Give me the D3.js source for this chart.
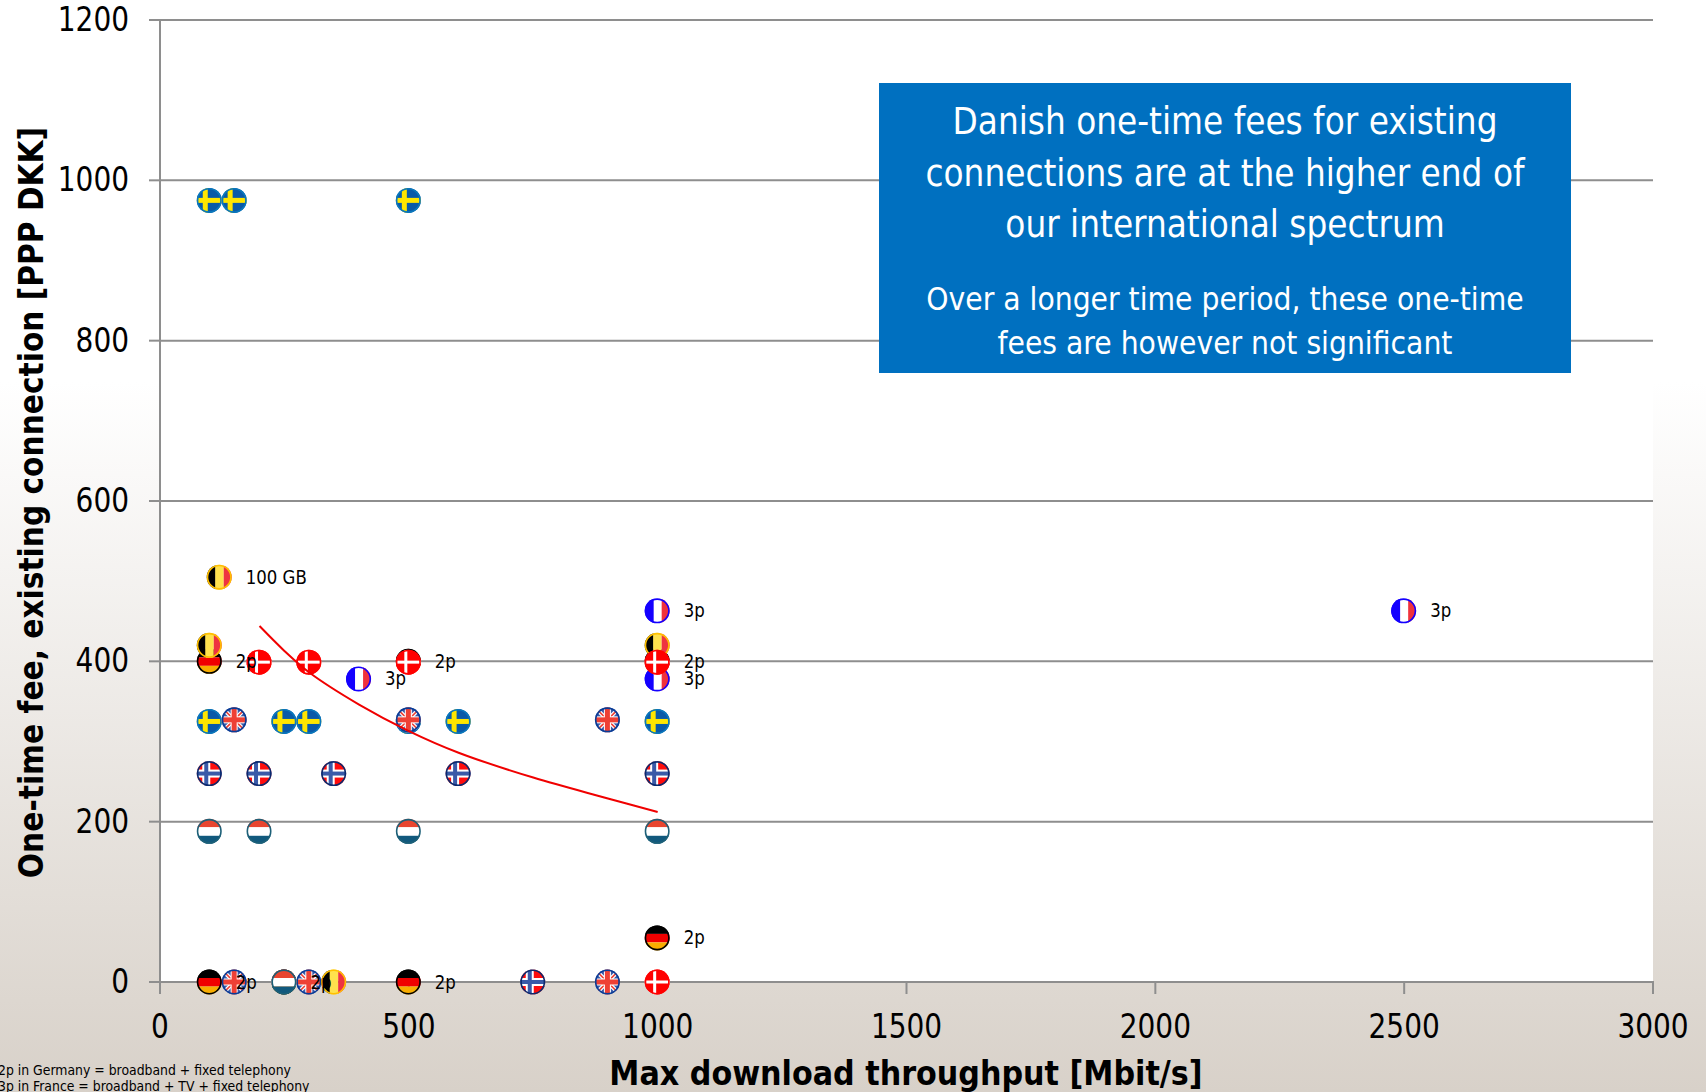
<!DOCTYPE html>
<html><head><meta charset="utf-8">
<script src="https://cdn.jsdelivr.net/npm/d3@7/dist/d3.min.js"></script>
<style>
html,body{margin:0;padding:0;width:1706px;height:1092px;overflow:hidden}
svg{display:block}
text{font-family:"DejaVu Sans Condensed","DejaVu Sans",sans-serif}
</style></head><body><div id="c"></div>
<script>
const xTicks=[0,500,1000,1500,2000,2500,3000];
const yTicks=[0,200,400,600,800,1000,1200];
// series: [throughput, fee, label]
const sweden=[[100,975],[150,975],[500,975],[100,325],[250,325],[300,325],[500,325],[600,325],[1000,325]];
const uk=[[150,327],[500,327],[900,327],[150,0],[300,0],[900,0]];
const germany=[[100,400,"2p"],[500,400,"2p"],[1000,400,"2p"],[1000,55,"2p"],[100,0,"2p"],[250,0,"2p"],[500,0,"2p"]];
const netherlands=[[100,188],[200,188],[500,188],[1000,188],[250,0]];
const france=[[1000,463,"3p"],[2500,463,"3p"],[400,378,"3p"],[1000,378,"3p"]];
const belgium=[[120,505,"100 GB"],[100,420],[1000,420],[350,0]];
const norway=[[100,260],[200,260],[350,260],[600,260],[1000,260],[750,0]];
const denmark=[[200,399],[300,399],[500,399],[1000,399],[1000,0]];
const trendX=[200,250,300,400,500,600,750,900,1000];
const trendY=[444,413,386,346,313,286,255,229,212];
const boxHead=["Danish one-time fees for existing","connections are at the higher end of","our international spectrum"];
const boxSub=["Over a longer time period, these one-time","fees are however not significant"];
const notes=["2p in Germany = broadband + fixed telephony","3p in France = broadband + TV + fixed telephony"];

const W=1706,H=1092;
const squeeze=(sel,f)=>sel.each(function(){
  const n=this.getComputedTextLength();
  d3.select(this).attr("textLength",n*f).attr("lengthAdjust","spacingAndGlyphs");
});
const svg=d3.select("#c").append("svg").attr("width",W).attr("height",H);
const defs=svg.append("defs");
const g=defs.append("linearGradient").attr("id","bg").attr("x1",0).attr("x2",0).attr("y1",0).attr("y2",1);
[[0,"#ffffff"],[.35,"#ffffff"],[1,"#d8d1c9"]].forEach(s=>g.append("stop").attr("offset",s[0]).attr("stop-color",s[1]));
svg.append("rect").attr("width",W).attr("height",H).attr("fill","url(#bg)");

const x=d3.scaleLinear().domain([0,3000]).range([160,1653]);
const y=d3.scaleLinear().domain([0,1200]).range([982,20]);
svg.append("rect").attr("x",x(0)).attr("y",y(1200)).attr("width",x(3000)-x(0)).attr("height",y(0)-y(1200)).attr("fill","#fff");

const grid="#8e8e8e";
const yAxis=svg.append("g").attr("transform",`translate(${x(0)},0)`)
  .call(d3.axisLeft(y).offset(0).tickValues(yTicks).tickFormat(d3.format("d")).tickSize(11).tickPadding(20));
const xAxis=svg.append("g").attr("transform",`translate(0,${y(0)})`)
  .call(d3.axisBottom(x).offset(0).tickValues(xTicks).tickFormat(d3.format("d")).tickSize(12).tickPadding(20));
[yAxis,xAxis].forEach(a=>{
  a.select(".domain").attr("stroke",grid).attr("stroke-width",2);
  a.selectAll("line").attr("stroke",grid).attr("stroke-width",2);
  a.selectAll("text").attr("fill","#000").style("font-size","34px").call(squeeze,.915);
});
svg.selectAll(".gl").data(yTicks).join("line").attr("x1",x(0)).attr("x2",x(3000))
  .attr("y1",d=>y(d)).attr("y2",d=>y(d)).attr("stroke",grid).attr("stroke-width",2);

svg.append("text").attr("x",906).attr("y",1085).attr("text-anchor","middle")
  .attr("font-weight","bold").style("font-size","33.6px").text("Max download throughput [Mbit/s]");
svg.append("text").attr("transform","translate(43,502.5) rotate(-90)").attr("text-anchor","middle")
  .attr("font-weight","bold").style("font-size","33px").text("One-time fee, existing connection [PPP DKK]");

notes.forEach((t,i)=>svg.append("text").attr("x",-2).attr("y",1075+i*16).style("font-size","13.85px").text(t));

// flags
const R=12.5;
defs.append("clipPath").attr("id","disc").append("circle").attr("r",R);
function flag(id,ring,draw){
  const s=defs.append("g").attr("id",id);
  const inner=s.append("g").attr("clip-path","url(#disc)");
  draw(inner);
  s.append("circle").attr("r",R-.8).attr("fill","none").attr("stroke",ring).attr("stroke-width",1.6);
}
const rect=(p,x0,y0,w,h,c)=>p.append("rect").attr("x",x0).attr("y",y0).attr("width",w).attr("height",h).attr("fill",c);
flag("f-se","#0a78bc",p=>{rect(p,-13,-13,26,26,"#0a5aa8");rect(p,-13,-2.5,26,5,"#ffe600");rect(p,-6.5,-13,5,26,"#ffe600");});
flag("f-dk","#ff0000",p=>{rect(p,-13,-13,26,26,"#ff0000");rect(p,-13,-1.5,26,3,"#fff");rect(p,-4,-13,3,26,"#fff");});
flag("f-no","#0a2a6e",p=>{rect(p,-13,-13,26,26,"#ff0d0d");rect(p,-13,-4,26,8,"#fff");rect(p,-7,-13,8,26,"#fff");rect(p,-13,-2,26,4,"#3a5aa8");rect(p,-5,-13,4,26,"#3a5aa8");});
flag("f-nl","#1d6078",p=>{rect(p,-13,-13,26,9,"#e8452f");rect(p,-13,-4,26,8.5,"#fff");rect(p,-13,4.5,26,9,"#11597d");});
flag("f-de","#000000",p=>{rect(p,-13,-13,26,9,"#000");rect(p,-13,-4,26,8.5,"#f00000");rect(p,-13,4.5,26,9,"#f8ad00");});
flag("f-fr","#1400ff",p=>{rect(p,-13,-13,10,26,"#1400ff");rect(p,-3.5,-13,8,26,"#fff");rect(p,4.5,-13,9,26,"#f0323c");});
flag("f-be","#ffc000",p=>{rect(p,-13,-13,9.5,26,"#000");rect(p,-4,-13,8.5,26,"#ffe14d");rect(p,4.5,-13,9,26,"#ee3340");});
flag("f-uk","#0a3c96",p=>{rect(p,-13,-13,26,26,"#3a5aa8");
  p.append("path").attr("d","M-13,-13L13,13M13,-13L-13,13").attr("stroke","#fff").attr("stroke-width",4);
  p.append("path").attr("d","M-13,-13L13,13M13,-13L-13,13").attr("stroke","#ee4035").attr("stroke-width",1.6);
  rect(p,-13,-3.5,26,7,"#fff");rect(p,-3.5,-13,7,26,"#fff");
  rect(p,-13,-2.5,26,5,"#ee4035");rect(p,-2.5,-13,5,26,"#ee4035");});

const layers=[[sweden,"f-se"],[uk,"f-uk"],[germany,"f-de"],[netherlands,"f-nl"],[france,"f-fr"],[belgium,"f-be"],[norway,"f-no"],[denmark,"f-dk"]];
layers.forEach(([data,id])=>{
  svg.append("g").selectAll("use").data(data).join("use").attr("href","#"+id)
    .attr("transform",d=>`translate(${x(d[0])-.5},${y(d[1])})`);
});
// trend
svg.append("path").attr("fill","none").attr("stroke","#f00000").attr("stroke-width",2)
  .attr("d",d3.line().x(d=>x(d)).y((d,i)=>y(trendY[i])).curve(d3.curveCatmullRom)(trendX));
// labels
layers.forEach(([data])=>{
  svg.append("g").selectAll("text").data(data.filter(d=>d[2])).join("text")
    .attr("x",d=>x(d[0])+26).attr("y",d=>y(d[1])+6.5).style("font-size","20px").attr("fill","#000").text(d=>d[2]).call(squeeze,.92);
});
// box
const bx=879,bw=692,by=83,bh=290;
svg.append("rect").attr("x",bx).attr("y",by).attr("width",bw).attr("height",bh).attr("fill","#0070c0");
boxHead.forEach((t,i)=>svg.append("text").attr("x",bx+bw/2).attr("y",134+i*51.5).attr("text-anchor","middle").attr("fill","#fff").style("font-size","37px").text(t).call(squeeze,.986));
boxSub.forEach((t,i)=>svg.append("text").attr("x",bx+bw/2).attr("y",310+i*43.5).attr("text-anchor","middle").attr("fill","#fff").style("font-size","32px").text(t).call(squeeze,.982));
</script></body></html>
